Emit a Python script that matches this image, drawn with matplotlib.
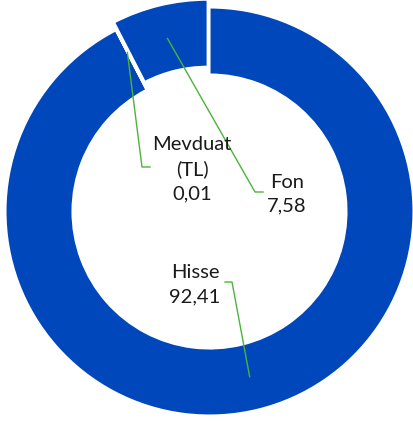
import matplotlib.pyplot as plt
import numpy as np

W, H = 413, 421

labels = ["Hisse", "Mevduat\n(TL)", "Fon"]
values = [92.41, 0.01, 7.58]
value_text = ["92,41", "0,01", "7,58"]

blue = "#0047BB"
green = "#4DB33D"

fig = plt.figure(figsize=(W / 100, H / 100), dpi=100)
ax = fig.add_axes([0, 0, 1, 1])

cx, cy = 209.5, H - 211.5   # merkez (piksel)
R, ring = 204, 67
explode = [0, 0, 8]

ax.pie(values, radius=R, center=(cx, cy), startangle=90, counterclock=False,
       explode=explode, colors=[blue, blue, blue],
       wedgeprops=dict(width=ring, edgecolor="white", linewidth=1.5))

# etiketler ve kılavuz çizgileri
text_pos = [(195, 285), (192, 169), (287, 194)]
elbows = [[(232, 282), (225, 282)], [(142, 167), (150, 167)], [(255, 192), (263, 192)]]
anchor_r = [170, 179, 170]

frac = np.cumsum([0] + values) / sum(values)
for i in range(len(values)):
    mid = 2 * np.pi * (frac[i] + frac[i + 1]) / 2
    r = anchor_r[i] + explode[i]
    ax0 = cx + r * np.sin(mid)
    ay0 = cy + r * np.cos(mid)
    xs = [ax0] + [p[0] for p in elbows[i]]
    ys = [ay0] + [H - p[1] for p in elbows[i]]
    ax.plot(xs, ys, color=green, lw=1)
    tx, ty = text_pos[i]
    ax.text(tx, H - ty, labels[i] + "\n" + value_text[i], ha="center", va="center",
            fontsize=14.5, family="Lato", color="#1a1a1a", linespacing=1.5)

ax.set_xlim(0, W)
ax.set_ylim(0, H)
ax.set_aspect("equal")
ax.axis("off")

fig.savefig("out.png", dpi=100)
